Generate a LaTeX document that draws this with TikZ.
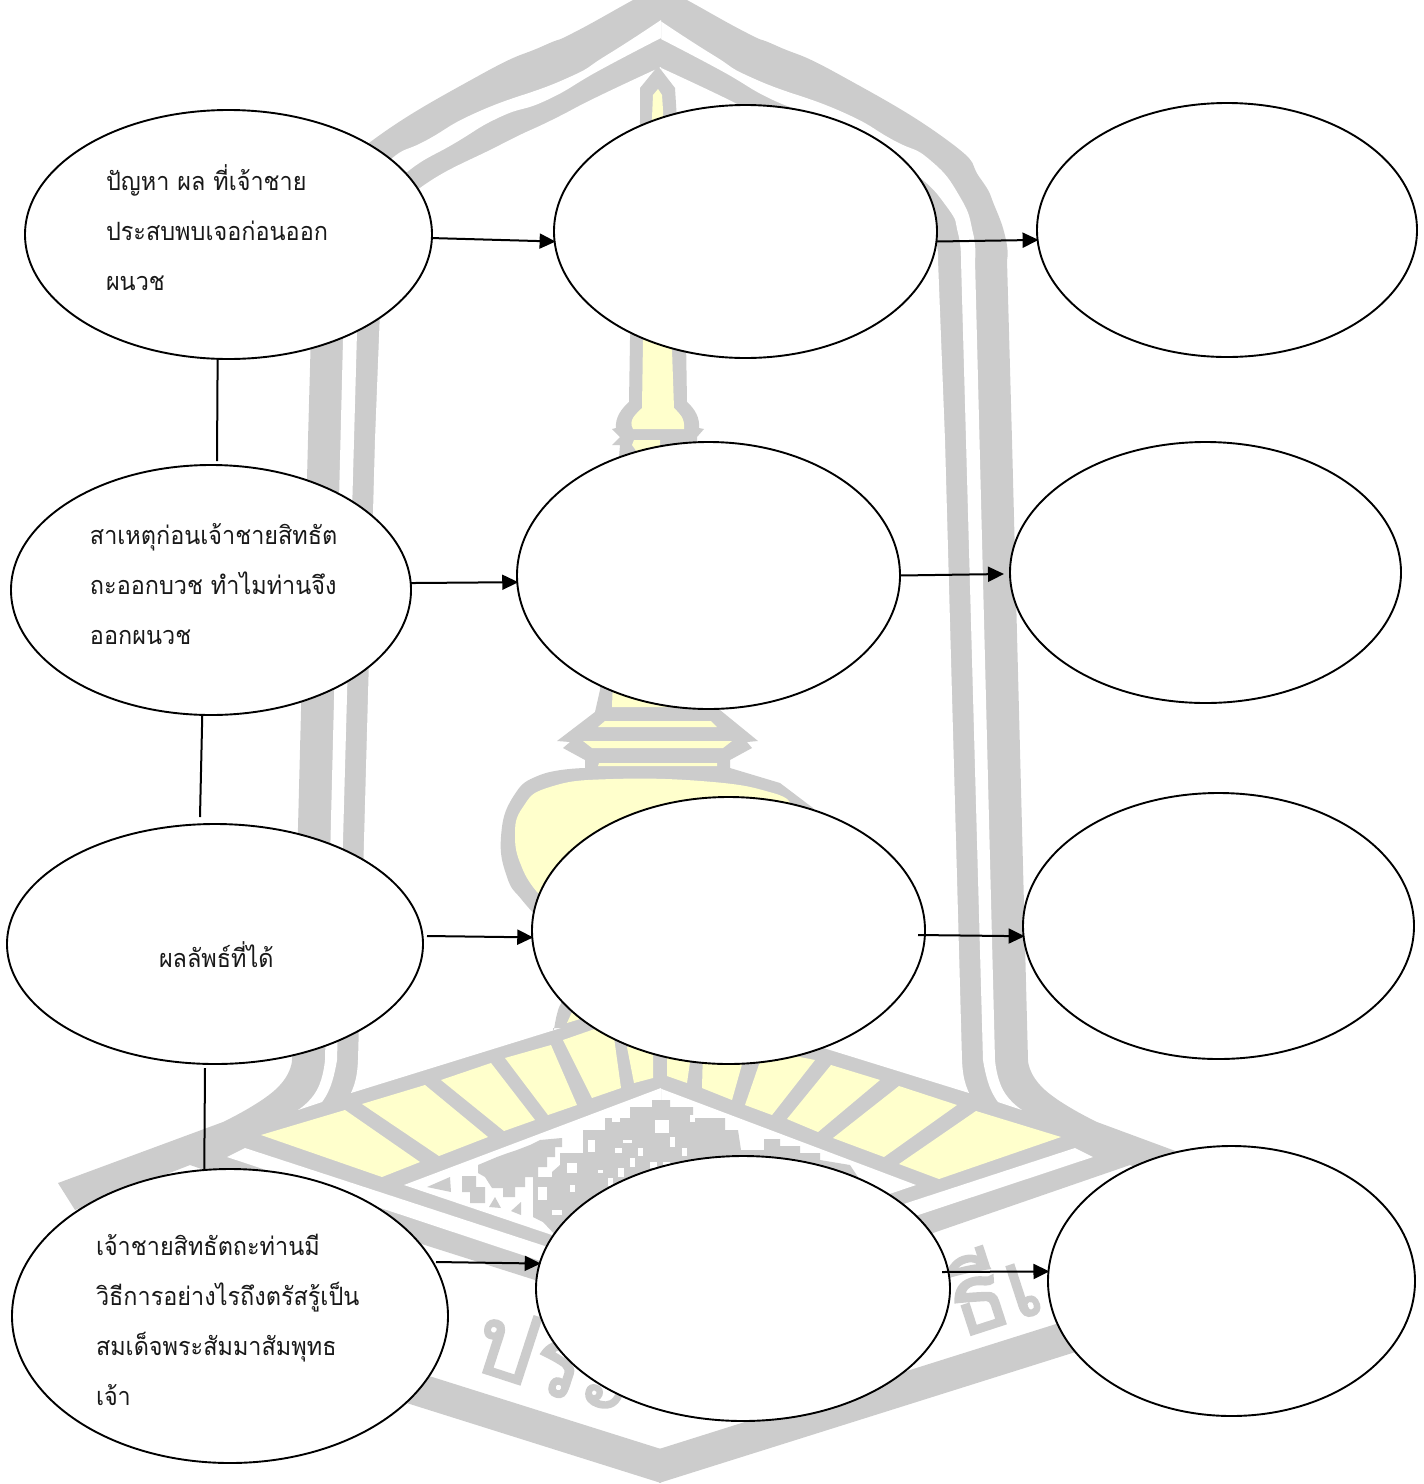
\documentclass[tikz,border=0pt]{standalone}
\usepackage{fontspec}
\usetikzlibrary{shapes.geometric,arrows.meta}
\newfontfamily\thaifont[Script=Thai,FakeStretch=0.93]{Loma}
\newfontfamily\sealfont[Script=Thai,FakeBold=2]{Loma}
\definecolor{wmgray}{HTML}{CCCCCC}
\definecolor{wmyel}{HTML}{FFFFCC}
\tikzset{
  oval/.style={ellipse,draw=black,fill=white,line width=0.95pt,inner sep=0pt,outer sep=0pt},
  arrowline/.style={draw=black,line width=1pt,-{Triangle[length=8pt,width=7.5pt]},shorten >=-0.5pt},
  plainline/.style={draw=black,line width=1pt},
  thaitext/.style={anchor=north west,align=left,inner sep=0pt,outer sep=0pt,text=black!90,
    font=\thaifont\fontsize{12.6}{25}\selectfont},
  wmg/.style={fill=wmgray,draw=none},
  wmw/.style={fill=white,draw=none},
  wmy/.style={fill=wmyel,draw=none},
  wmtext/.style={text=wmgray,inner sep=0pt,font=\sealfont\fontsize{48}{48}\selectfont}
}
\begin{document}
\begin{tikzpicture}[x=0.5pt,y=-0.5pt]
\useasboundingbox (0,0) rectangle (1424,1484);
\begin{scope}
\clip (0,0) rectangle (1424,1484);
% ---- watermark frame, mirrored about x=660
\foreach \s in {1,-1}{
\begin{scope}[shift={(660,0)},xscale=\s]
 \fill[wmg] plot[smooth,tension=.9] coordinates {(-1,-15)(27,0)(87,33)(117,46)(180,75)(287,140)(320,178)(335,207)(346,240)(347,260)}
   -- (352,440) -- plot[smooth,tension=.9] coordinates {(368,1060)(385,1090)(437,1122)}
   -- (602,1183) -- (585,1210) -- (470,1165) -- (273,1233) -- (-1,1320) -- cycle;
 \fill[wmw] plot[smooth,tension=.9] coordinates {(-1,20)(53,55)(97,80)(180,111)(233,140)(270,160)(300,197)(313,233)(315,260)}
   -- (335,1060) -- plot[smooth,tension=.9] coordinates {(335,1060)(343,1090)(362,1110)}
   -- (338,1102) -- plot[smooth,tension=.9] coordinates {(338,1102)(329,1085)(323,1060)}
   -- (306,440) -- plot[smooth,tension=.9] coordinates {(301,260)(298,233)(287,207)(253,172)(205,143)(160,117)(113,100)(60,70)(-1,38)} -- cycle;
 \fill[wmw] plot[smooth,tension=.9] coordinates {(-1,67)(63,97)(108,120)(160,145)(240,188)(270,225)(278,260)}
   -- (285,440) -- plot[smooth,tension=.9] coordinates {(302,1060)(304,1078)(309,1093)} -- (-1,997) -- cycle;
 \fill[wmw] (-1,1088) -- (256,1185) -- (108,1235) -- (-1,1271) -- cycle;
 \fill[wmw] (415,1148) -- (433,1157) -- (-1,1301) -- (-1,1284) -- cycle;
 \fill[wmg] (-1,1449) -- (450,1307) -- (460,1338) -- (-1,1483) -- cycle;
\end{scope}
}
% ---- stupa
\fill[wmg] (658,66) -- (675,88) -- (677,120) -- (686,340) -- (687,402) .. controls (695,409) and (700,418) .. (699,428) -- (704,429)
  -- (697,437) -- (697,445) -- (720,710) -- (758,741) -- (747,742) -- (752,748) -- (730,760) -- (730,768)
  -- (780,783) -- (813,808) -- (830,840) -- (700,950) -- (545,925)
  -- plot[smooth,tension=.8] coordinates {(545,925)(522,900)(507,877)(501,837)(513,797)(540,775)(585,768)}
  -- (585,760) -- (563,748) -- (570,742) -- (557,741) -- (595,712) -- (600,690) -- (620,445) -- (612,445)
  -- (620,437) -- (612,429) -- (616,428) .. controls (615,418) and (621,409) .. (629,402) -- (630,340) -- (640,120) -- (640,88) -- cycle;
\fill[wmy] (658,89) -- (662,95) -- (663,110) -- (672,350) -- (674,408) .. controls (680,414) and (685,418) .. (684,429) -- (633,429)
  .. controls (628,420) and (636,414) .. (642,408) -- (643,340) -- (652,118) -- (653,95) -- cycle;
\fill[wmy] (632,445) -- (637,452) -- (660,447) -- (660,440) -- (634,440) -- cycle;
\fill[wmy] (613,680) -- (612,707) -- (705,707) -- (705,680) -- cycle;
\fill[wmy] (598,727) -- (605,721) -- (711,721) -- (717,727) -- cycle;
\fill[wmy] (583,741) -- (592,748) -- (723,748) -- (732,741) -- cycle;
\fill[wmy] (598,766) -- (599,763) -- (717,763) -- (717,766) -- cycle;
\fill[wmy] plot[smooth,tension=.8] coordinates {(538,893)(523,870)(515,837)(523,807)(550,787)(613,779)(713,782)(773,793)(790,803)}
  -- (760,880) -- cycle;
\fill[wmg] (553,1028) to[out=-85,in=-130] (562,1002) -- (620,1000) -- (620,1030) -- cycle;
\fill[wmy] (567,1023) -- (572,1012) -- (580,1019) -- cycle;
% ---- fan panels
\foreach \qa/\qb/\qc/\qd/\qe/\qf/\qg/\qh in {
 261/1135/345/1110/420/1162/382/1177,
 362/1104/425/1085/488/1137/439/1156,
 441/1080/491/1063/535/1120/504/1131,
 505/1058/551/1045/577/1105/548/1115,
 563/1040/612/1023/621/1088/592/1098,
 627/1047/653/1038/653/1078/634/1083,
 667/1040/692/1048/687/1083/667/1076,
 703/1050/746/1050/732/1100/702/1088,
 764/1050/815/1060/772/1115/745/1105,
 831/1065/880/1080/818/1132/787/1119,
 899/1086/957/1105/884/1157/833/1138,
 976/1111/1061/1137/939/1179/899/1164}{
  \fill[wmy] (\qa,\qb) -- (\qc,\qd) -- (\qe,\qf) -- (\qg,\qh) -- cycle;
}
% ---- pattern in the white chevron
\fill[wmg] (427,1187) -- (450,1177) -- (451,1192) -- cycle;
\fill[wmg] (462,1176) -- (476,1176) -- (476,1187) -- (485,1187) -- (485,1203) -- (470,1203) -- (470,1192) -- (462,1192) -- cycle;
\fill[wmg] (489,1207) -- (495,1197) -- (501,1208) -- cycle;
\fill[wmg] (511,1211) -- (521,1202) -- (521,1215) -- cycle;
\fill[wmg] (478,1165) -- (497,1157) -- (508,1153) -- (517,1150) -- (530,1145) -- (540,1140) -- (562,1138) -- (562,1147)
  -- (555,1147) -- (555,1157) -- (547,1157) -- (547,1167) -- (538,1167) -- (538,1177) -- (525,1177) -- (525,1187)
  -- (515,1187) -- (515,1197) -- (503,1197) -- (503,1188) -- (492,1188) -- (485,1177) -- (478,1173) -- cycle;
\fill[wmg] (533,1177) -- (552,1177) -- (552,1172) -- (560,1165) -- (560,1153) -- (583,1153) -- (583,1130) -- (605,1130)
  -- (605,1118) -- (630,1118) -- (630,1107) -- (652,1107) -- (652,1100) -- (670,1100) -- (670,1107) -- (693,1107)
  -- (693,1118) -- (725,1118) -- (725,1130) -- (738,1130) -- (741,1150) -- (764,1150) -- (764,1139) -- (780,1139)
  -- (780,1146) -- (800,1146) -- (800,1153) -- (820,1153) -- (820,1160) -- (850,1165) -- (860,1180) -- (760,1230)
  -- (560,1240) -- (543,1222) -- (533,1217) -- cycle;
\foreach \a/\b/\c/\d in {655/1120/669/1133, 552/1210/562/1215, 598/1170/603/1173, 623/1140/632/1143, 615/1148/622/1153,
  638/1148/643/1156, 670/1137/675/1147, 682/1148/687/1156, 630/1158/635/1167, 618/1168/624/1177, 608/1178/613/1186,
  650/1162/657/1168, 663/1162/670/1167, 588/1140/595/1152, 567/1163/577/1173, 538/1187/547/1200, 570/1185/575/1192,
  590/1198/600/1201, 612/1115/620/1122, 690/1115/695/1122}{
  \fill[wmw] (\a,\b) rectangle (\c,\d);
}
% ---- text of the seal
\node[wmtext,rotate=-18] (sealA) at (556,1360) {ประ};
\node[wmtext,rotate=18] (sealB) at (991,1286) {ธีเ};
\end{scope}
% ---- ovals
\node[oval,minimum width=203.5pt,minimum height=124.5pt] (a) at (228.5,234.5) {};
\node[oval,minimum width=191.5pt,minimum height=126.5pt] (b) at (745.5,231.5) {};
\node[oval,minimum width=190pt,minimum height=127pt] (c) at (1227,230) {};
\node[oval,minimum width=200pt,minimum height=125pt] (d) at (211,590) {};
\node[oval,minimum width=191.5pt,minimum height=133.5pt] (e) at (708.5,575.5) {};
\node[oval,minimum width=195.5pt,minimum height=130.5pt] (f) at (1205.5,572.5) {};
\node[oval,minimum width=208pt,minimum height=120pt] (g) at (215,944) {};
\node[oval,minimum width=196.5pt,minimum height=133.5pt] (h) at (728.5,930.5) {};
\node[oval,minimum width=195.5pt,minimum height=133pt] (i) at (1218.5,926) {};
\node[oval,minimum width=218pt,minimum height=147pt] (j) at (230,1316) {};
\node[oval,minimum width=207pt,minimum height=132.5pt] (k) at (743,1288.5) {};
\node[oval,minimum width=183.5pt,minimum height=135pt] (l) at (1231.5,1281) {};
% ---- free ends
\coordinate (adEnd) at (217,461);
\coordinate (efEnd) at (1003,574);
\coordinate (dgEnd) at (200,817);
\coordinate (ghStart) at (427,936);
\coordinate (hiStart) at (918,935);
\coordinate (gjStart) at (205,1068);
\coordinate (jkStart) at (436,1262);
\coordinate (klStart) at (942,1272);
% ---- connectors
\draw[arrowline] (a.-1) -- (b.183);
\draw[arrowline] (b.-3) -- (c.183.2);
\draw[plainline] (a.265.9) -- (adEnd);
\draw[arrowline] (d.2.3) -- (e.182.5);
\draw[arrowline] (e.0.6) -- (efEnd);
\draw[plainline] (d.266.5) -- (dgEnd);
\draw[arrowline] (ghStart) -- (h.182);
\draw[arrowline] (hiStart) -- (i.183.3);
\draw[plainline] (gjStart) -- (j.100.7);
\draw[arrowline] (jkStart) -- (k.173.2);
\draw[arrowline] (klStart) -- (l.177.2);
% ---- labels
\node[thaitext] (ta) at (106,165) {ปัญหา ผล ที่เจ้าชาย\\ประสบพบเจอก่อนออก\\ผนวช};
\node[thaitext] (td) at (90,523) {สาเหตุก่อนเจ้าชายสิทธัต\\ถะออกบวช ทำไมท่านจึง\\ออกผนวช};
\node[thaitext] (tg) at (159,942) {ผลลัพธ์ที่ได้};
\node[thaitext] (tj) at (96,1234) {เจ้าชายสิทธัตถะท่านมี\\วิธีการอย่างไรถึงตรัสรู้เป็น\\สมเด็จพระสัมมาสัมพุทธ\\เจ้า};
\end{tikzpicture}
\end{document}
